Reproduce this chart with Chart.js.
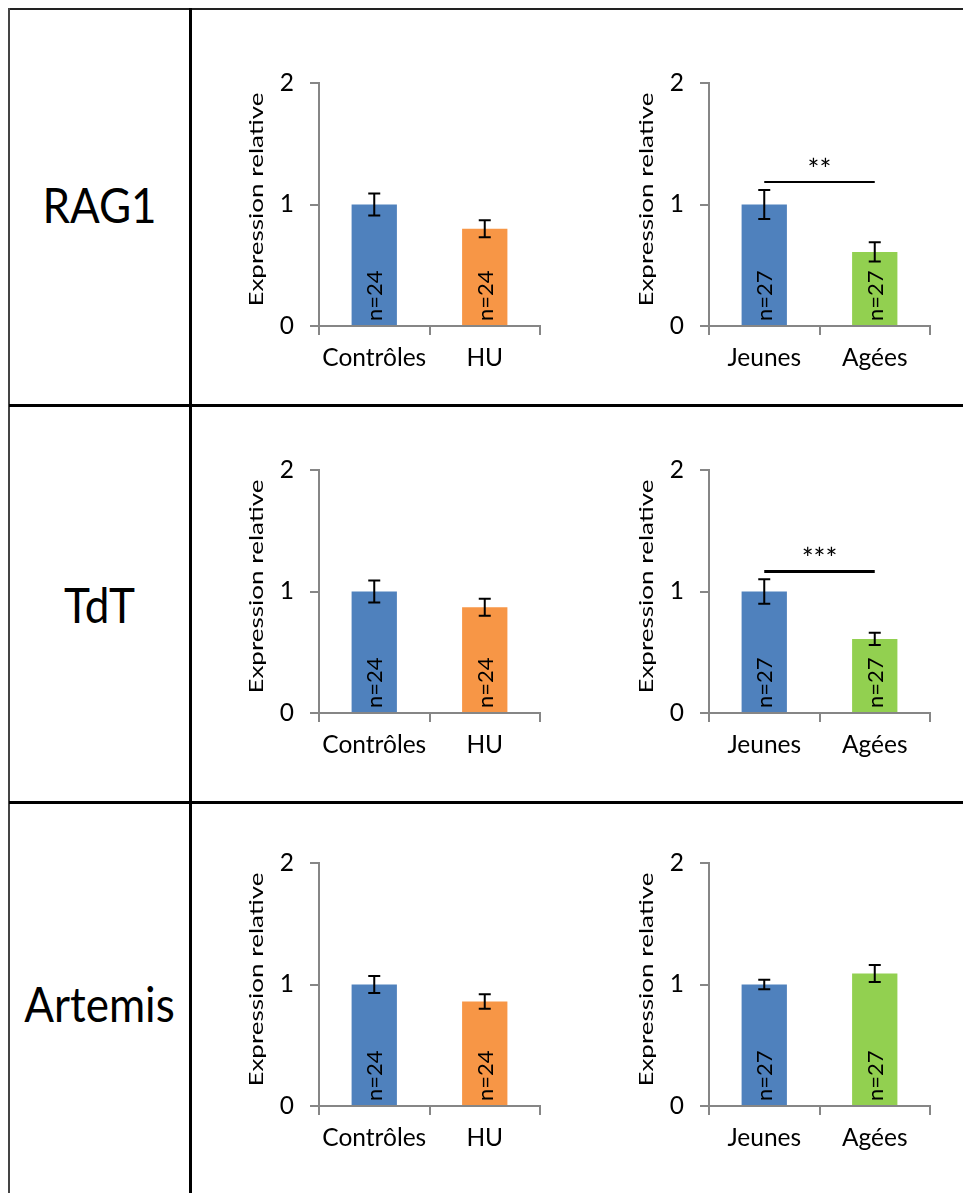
<!DOCTYPE html>
<html>
<head>
<meta charset="utf-8">
<script src="https://cdn.jsdelivr.net/npm/chart.js@4/dist/chart.umd.min.js"></script>
<style>
  html, body { margin: 0; padding: 0; background: #fff; }
  body { width: 963px; height: 1193px; position: relative; overflow: hidden; font-family: Lato, sans-serif; }
  .line { position: absolute; background: #000; }
  .gene { position: absolute; left: 9px; width: 181px; height: 44px; line-height: 44px; text-align: center; font-size: 44px; transform: scaleY(1.12); }
  canvas { position: absolute; }
</style>
</head>
<body>
<div class="line" style="left:9px; top:8px; width:954px; height:2px; background:#222"></div>
<div class="line" style="left:8px; top:8px; width:2px; height:1185px; background:#444"></div>
<div class="line" style="left:189px; top:8px; width:3px; height:1185px"></div>
<div class="line" style="left:9px; top:404px; width:954px; height:3px"></div>
<div class="line" style="left:9px; top:801px; width:954px; height:3px"></div>

<script>
// values
const genes = ['RAG1', 'TdT', 'Artemis'];
const huLabels = ['Contrôles', 'HU'];
const ageLabels = ['Jeunes', 'Agées'];
const huMeans = [[1.0, 0.80], [1.0, 0.87], [1.0, 0.86]];
const huErrors = [[0.09, 0.07], [0.09, 0.07], [0.07, 0.06]];
const ageMeans = [[1.0, 0.61], [1.0, 0.61], [1.0, 1.09]];
const ageErrors = [[0.12, 0.08], [0.10, 0.05], [0.04, 0.07]];
const huCounts = [24, 24];
const ageCounts = [27, 27];
const ageStars = ['**', '***', null];
const ageStarLevel = [1.185, 1.165, null];
const yTicks = [0, 1, 2];
const yTitle = 'Expression relative';

const huColors = ['#4F81BD', '#F79646'];
const ageColors = ['#4F81BD', '#92D050'];
const axisGray = '#868686';
const fontFamily = 'Lato, sans-serif';

const geneCenters = [204, 604, 1003];
const rowTops = [40, 427, 820];
const colLefts = [200, 590];

let barExtras = {
    id: 'barExtras',
    afterDatasetsDraw(chart, args, opts) {
        let ctx = chart.ctx;
        let x = chart.scales.x;
        let y = chart.scales.y;
        let area = chart.chartArea;
        let values = chart.data.datasets[0].data;
        let bars = chart.getDatasetMeta(0).data;

        // y title, stretched along its length like the original
        ctx.save();
        ctx.translate(57, (area.top + area.bottom) / 2 - 5);
        ctx.rotate(-Math.PI / 2);
        ctx.scale(1.3, 1);
        ctx.font = '20px ' + fontFamily;
        ctx.fillStyle = '#000';
        ctx.textAlign = 'center';
        ctx.textBaseline = 'middle';
        ctx.fillText(yTitle, 0, 0);
        ctx.restore();

        bars.forEach((bar, i) => {
            // n= label, vertical inside the bar
            ctx.save();
            ctx.translate(bar.x + 1, y.getPixelForValue(0) - 5);
            ctx.rotate(-Math.PI / 2);
            ctx.font = '22px ' + fontFamily;
            ctx.fillStyle = '#000';
            ctx.textAlign = 'left';
            ctx.textBaseline = 'middle';
            ctx.fillText('n=' + opts.counts[i], 0, 0);
            ctx.restore();

            // error bar
            let top = y.getPixelForValue(values[i] + opts.errors[i]);
            let bottom = y.getPixelForValue(values[i] - opts.errors[i]);
            ctx.save();
            ctx.strokeStyle = '#000';
            ctx.lineWidth = 2;
            ctx.beginPath();
            ctx.moveTo(bar.x, top);
            ctx.lineTo(bar.x, bottom);
            ctx.moveTo(bar.x - 6, top);
            ctx.lineTo(bar.x + 6, top);
            ctx.moveTo(bar.x - 6, bottom);
            ctx.lineTo(bar.x + 6, bottom);
            ctx.stroke();
            ctx.restore();
        });

        if (opts.stars) {
            let ly = y.getPixelForValue(opts.starLevel);
            let x0 = x.getPixelForValue(0);
            let x1 = x.getPixelForValue(1);
            ctx.save();
            ctx.strokeStyle = '#000';
            ctx.lineWidth = opts.starWidth;
            ctx.beginPath();
            ctx.moveTo(x0, ly);
            ctx.lineTo(x1, ly);
            ctx.stroke();
            ctx.font = '28px ' + fontFamily;
            ctx.fillStyle = '#000';
            ctx.textAlign = 'center';
            ctx.textBaseline = 'middle';
            ctx.fillText(opts.stars, (x0 + x1) / 2, ly - 11);
            ctx.restore();
        }
    }
};

let makeChart = (left, top, labels, means, errors, counts, colors, stars, starLevel, starWidth) => {
    let canvas = document.createElement('canvas');
    canvas.width = 360;
    canvas.height = 340;
    canvas.style.left = left + 'px';
    canvas.style.top = top + 'px';
    document.body.appendChild(canvas);

    let tickFont = { family: fontFamily, size: 24.5 };

    return new Chart(canvas.getContext('2d'), {
        type: 'bar',
        data: {
            labels: labels,
            datasets: [{
                data: means,
                backgroundColor: colors,
                barPercentage: 0.41,
                categoryPercentage: 1
            }]
        },
        options: {
            responsive: false,
            animation: false,
            events: [],
            layout: { padding: { top: 43, right: 20, left: 0, bottom: 0 } },
            plugins: {
                legend: { display: false },
                tooltip: { enabled: false },
                barExtras: { errors, counts, stars, starLevel, starWidth }
            },
            scales: {
                x: {
                    grid: { offset: true, drawOnChartArea: false, tickLength: 9, color: axisGray, lineWidth: 2 },
                    border: { color: axisGray, width: 2 },
                    ticks: { font: tickFont, color: '#000', padding: 8, maxRotation: 0 },
                    afterFit: s => { s.height = 54; }
                },
                y: {
                    min: yTicks[0],
                    max: yTicks[yTicks.length - 1],
                    afterBuildTicks: s => { s.ticks = yTicks.map(v => ({ value: v })); },
                    grid: { drawOnChartArea: false, tickLength: 9, color: axisGray, lineWidth: 2 },
                    border: { color: axisGray, width: 2 },
                    ticks: { font: tickFont, color: '#000', padding: 16 },
                    afterFit: s => { s.width = 119; }
                }
            }
        },
        plugins: [barExtras]
    });
};

genes.forEach((gene, r) => {
    let div = document.createElement('div');
    div.className = 'gene';
    div.style.top = (geneCenters[r] - 22) + 'px';
    div.textContent = gene;
    document.body.appendChild(div);

    makeChart(colLefts[0], rowTops[r], huLabels, huMeans[r], huErrors[r], huCounts, huColors, null, null, 0);
    makeChart(colLefts[1], rowTops[r], ageLabels, ageMeans[r], ageErrors[r], ageCounts, ageColors,
        ageStars[r], ageStarLevel[r], r === 1 ? 3 : 2);
});
</script>
</body>
</html>
